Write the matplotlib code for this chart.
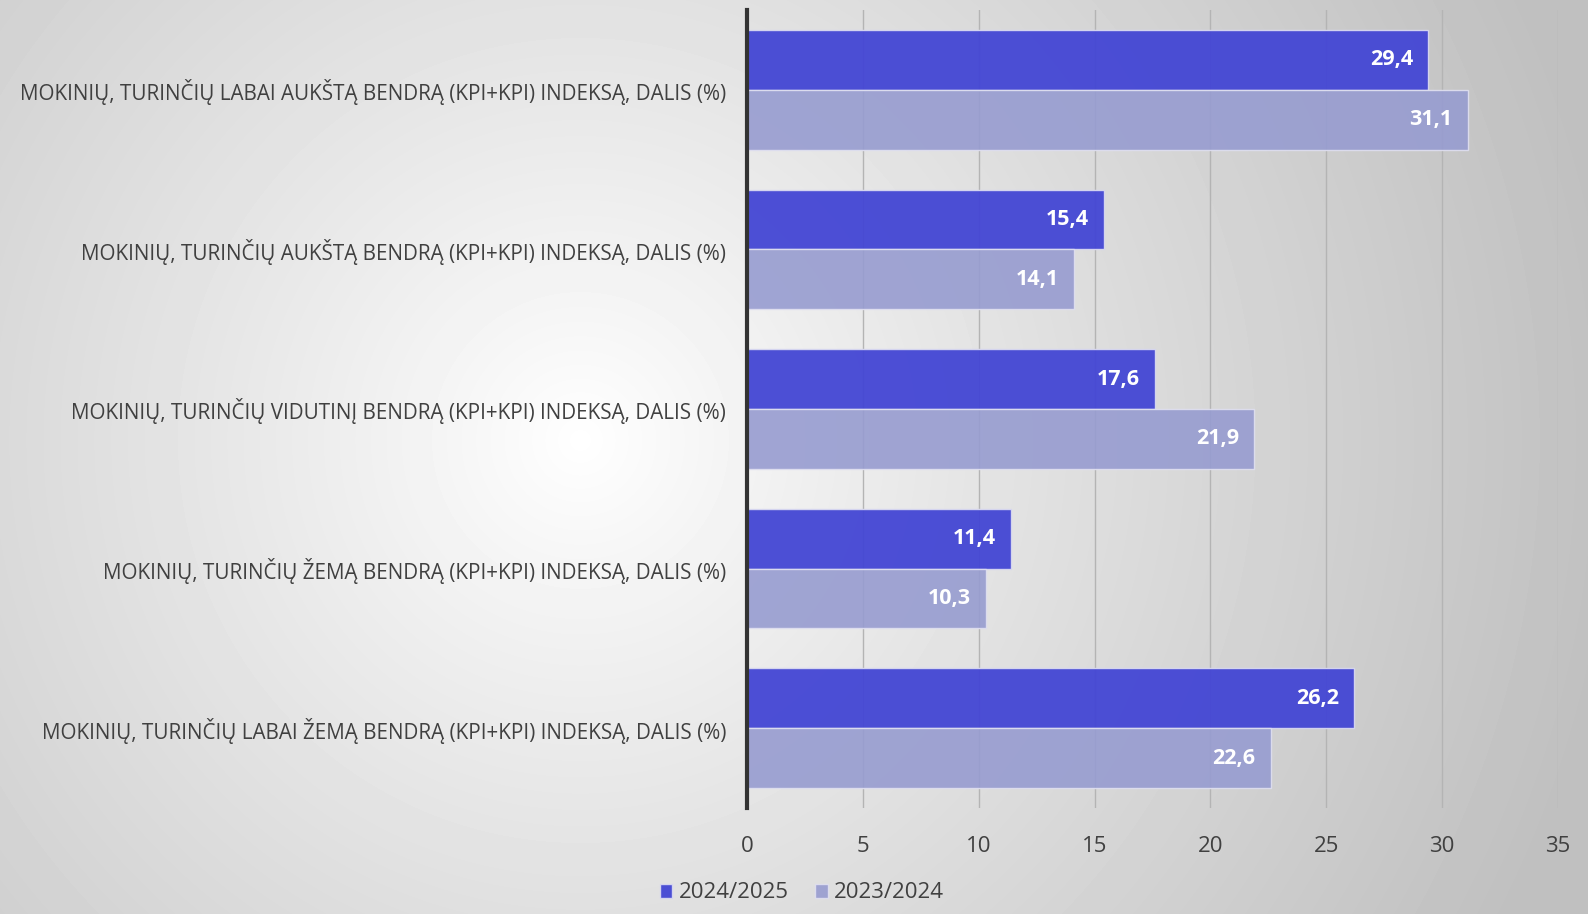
import numpy as np
import matplotlib.pyplot as plt

categories = [
    "MOKINIŲ, TURINČIŲ LABAI AUKŠTĄ BENDRĄ (KPI+KPI) INDEKSĄ, DALIS (%)",
    "MOKINIŲ, TURINČIŲ AUKŠTĄ BENDRĄ (KPI+KPI) INDEKSĄ, DALIS (%)",
    "MOKINIŲ, TURINČIŲ VIDUTINĮ BENDRĄ (KPI+KPI) INDEKSĄ, DALIS (%)",
    "MOKINIŲ, TURINČIŲ ŽEMĄ BENDRĄ (KPI+KPI) INDEKSĄ, DALIS (%)",
    "MOKINIŲ, TURINČIŲ LABAI ŽEMĄ BENDRĄ (KPI+KPI) INDEKSĄ, DALIS (%)",
]
series_names = ["2024/2025", "2023/2024"]
values_2425 = [29.4, 15.4, 17.6, 11.4, 26.2]
values_2324 = [31.1, 14.1, 21.9, 10.3, 22.6]
x_ticks = [0, 5, 10, 15, 20, 25, 30, 35]

col_new = "#4346d4"
col_old = "#979cd0"

plt.rcParams['font.family'] = ['Open Sans', 'DejaVu Sans']

W, H = 1588, 914
fig = plt.figure(figsize=(W / 100, H / 100), dpi=100)

# radial gradient background
bg = fig.add_axes([0, 0, 1, 1], zorder=-10)
yy, xx = np.mgrid[0:H, 0:W]
r = np.sqrt((xx - 580) ** 2 + (yy - 440) ** 2)
shade = 1.0 - 0.25 * np.clip(r / 1050, 0, 1) ** 0.9
bg.imshow(shade, cmap="gray", vmin=0, vmax=1, aspect="auto", extent=[0, W, H, 0])
bg.axis("off")

ax = fig.add_axes([747 / W, 1 - 808 / H, (1558 - 747) / W, (808 - 10) / H])
ax.patch.set_alpha(0)

y = np.arange(len(categories))
h = 0.375
b1 = ax.barh(y - h / 2, values_2425, height=h, color=col_new, alpha=0.95,
             edgecolor="#d8d8f0", linewidth=1, label=series_names[0], zorder=3)
b2 = ax.barh(y + h / 2, values_2324, height=h, color=col_old, alpha=0.9,
             edgecolor="#e0e0f0", linewidth=1, label=series_names[1], zorder=3)

for bars, vals in ((b1, values_2425), (b2, values_2324)):
    for bar, v in zip(bars, vals):
        ax.text(v - 0.65, bar.get_y() + bar.get_height() / 2,
                f"{v:.1f}".replace(".", ","), ha="right", va="center",
                color="white", fontsize=15.5, fontweight="bold", zorder=5)

ax.set_xlim(0, 35)
ax.set_ylim(len(categories) - 0.5, -0.5)
ax.set_xticks(x_ticks)
ax.set_xticklabels([str(t) for t in x_ticks], fontsize=16, color="#404040")
ax.set_yticks(y)
ax.set_yticklabels(categories, fontsize=14.9, color="#404040")
ax.tick_params(axis="both", length=0)
ax.tick_params(axis="x", pad=20)
ax.tick_params(axis="y", pad=15)
ax.grid(axis="x", color="#b4b4b4", linewidth=1, zorder=0)
ax.set_axisbelow(True)
for s in ("top", "right", "bottom"):
    ax.spines[s].set_visible(False)
ax.spines["left"].set_color("#333333")
ax.spines["left"].set_linewidth(3)
ax.spines["left"].set_zorder(6)

leg = fig.legend(handles=[b1, b2], labels=series_names, loc="center",
                 bbox_to_anchor=(802 / W, 1 - 893 / H), ncol=2, frameon=False,
                 fontsize=16, handlelength=0.55, handleheight=0.6,
                 handletextpad=0.3, columnspacing=1.2)
for t in leg.get_texts():
    t.set_color("#404040")

fig.savefig("out.png", dpi=100)
